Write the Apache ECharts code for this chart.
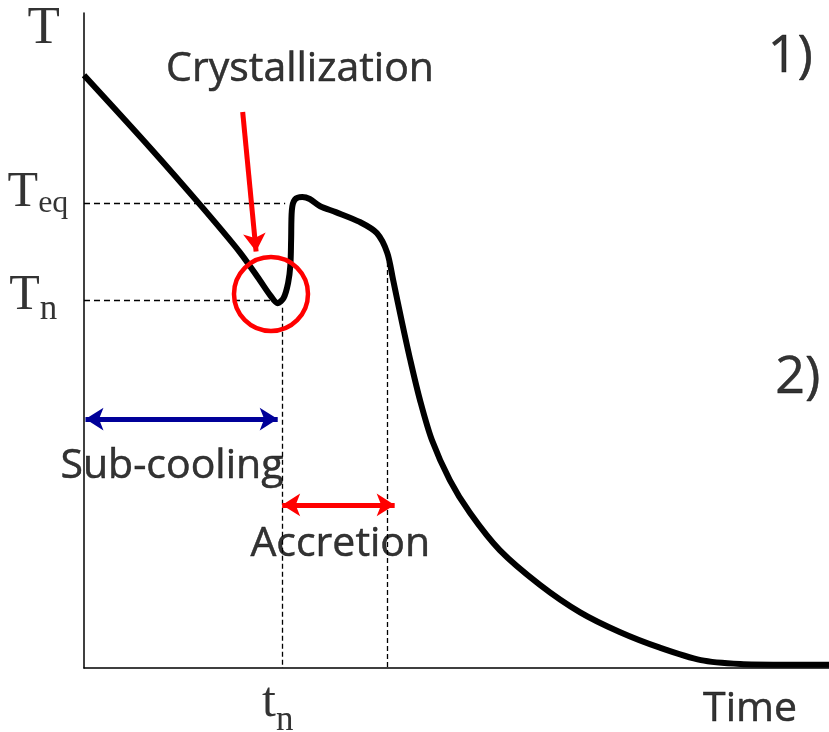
<!DOCTYPE html>
<html>
<head>
<meta charset="utf-8">
<script src="https://cdn.jsdelivr.net/npm/echarts@6/dist/echarts.min.js"></script>
<style>
  html, body { margin: 0; padding: 0; background: #fff; }
  #chart { width: 829px; height: 732px; }
</style>
</head>
<body>
<div id="chart"></div>
<script>
// cooling curve (time, temperature), arbitrary units 0..100
const timeVals = [0, 8.9, 15.6, 20.9, 23.6, 25.0, 26.0, 26.8, 27.4, 27.7, 27.8, 27.9, 28.3, 29.3, 30.3, 31.7,
  33.8, 37.0, 39.3, 40.7, 41.5, 42.7, 43.8, 45.1, 46.7, 49.1, 51.8, 55.8, 61.2, 66.6, 71.9, 77.3, 82.8, 88.1, 93.4, 100]
const tempVals = [90.5, 79.4, 70.7, 63.5, 59.2, 56.9, 55.7, 56.5, 58.8, 61.5, 65.3, 69.9, 71.5, 71.9, 71.6, 70.5,
  69.6, 68.1, 66.4, 63.4, 59.2, 52.7, 47.0, 40.9, 34.8, 28.7, 23.7, 18.0, 12.7, 8.5, 5.5, 3.1, 1.2, 0.6, 0.5, 0.5]

// reference levels
const tEq = 71.0
const tN = 56.2
const tNucl = 26.6
const tAccEnd = 40.7

// annotations (anchors in data units)
const subCool = { y: 38.0, x0: 0.2, x1: 26.0 }
const accretion = { y: 24.9, x0: 26.6, x1: 41.7 }
const crystArrow = [[21.3, 84.9], [23.1, 63.6]]
const crystCircle = [25.1, 57.1]

const noteText = ['Crystallization', 'Sub-cooling', 'Accretion', 'Time']
const noteX = [29.0, 11.8, 34.4, 89.4]
const noteY = [91.4, 30.8, 18.9, -6.3]

const stageText = ['1)', '2)']
const stageX = [94.8, 95.8]
const stageY = [93.2, 44.2]

const symText = ['{A|T}', '{a|T}{e|eq}', '{a|T}{n|n}', '{a|t}{m|n}']
const symX = [-5.4, -2.1, -3.6, 26.0]
const symY = [97.5, 72.4, 56.3, -6.1]
const symAlign = ['center', 'right', 'right', 'center']

let chart = echarts.init(document.getElementById('chart'))

let curve = timeVals.map((t, i) => [t, tempVals[i]])

let dash = { color: '#000', width: 1.3, type: [6, 4] }
let vdash = { color: '#000', width: 1.3, type: [5, 3] }

let textLayer = (names, xs, ys, fontSize) => ({
  type: 'scatter',
  silent: true,
  clip: false,
  symbolSize: 0,
  data: names.map((s, i) => ({ value: [xs[i], ys[i]], name: s })),
  label: {
    show: true,
    position: 'inside',
    formatter: p => p.name,
    fontFamily: 'Open Sans',
    fontSize: fontSize,
    color: '#000',
    textBorderColor: '#000',
    textBorderWidth: 0.5
  }
})

let serif = 'Liberation Serif'

let option = {
  animation: false,
  grid: { left: 84, right: 0, top: 13, bottom: 64 },
  xAxis: {
    type: 'value', min: 0, max: 100,
    axisLine: { show: true, lineStyle: { color: '#000', width: 1.5 } },
    axisTick: { show: false }, axisLabel: { show: false }, splitLine: { show: false }
  },
  yAxis: {
    type: 'value', min: 0, max: 100,
    axisLine: { show: true, lineStyle: { color: '#000', width: 1.5 } },
    axisTick: { show: false }, axisLabel: { show: false }, splitLine: { show: false }
  },
  series: [
    {
      type: 'line',
      data: curve,
      smooth: 0.3,
      symbol: 'none',
      lineStyle: { color: '#000', width: 6 },
      z: 5,
      markLine: {
        silent: true,
        symbol: ['none', 'none'],
        label: { show: false },
        emphasis: { disabled: true },
        data: [
          [{ coord: [0, tEq], lineStyle: dash }, { coord: [27.0, tEq] }],
          [{ coord: [0, tN], lineStyle: dash }, { coord: [25.6, tN] }],
          [{ coord: [tNucl, 55.0], lineStyle: vdash }, { coord: [tNucl, 0] }],
          [{ coord: [tAccEnd, 62.0], lineStyle: vdash }, { coord: [tAccEnd, 0] }],
          [
            { coord: [subCool.x0, subCool.y], symbol: 'arrow', symbolSize: [17, 18], lineStyle: { color: '#000099', width: 5, type: 'solid' } },
            { coord: [subCool.x1, subCool.y], symbol: 'arrow', symbolSize: [17, 18] }
          ],
          [
            { coord: [accretion.x0, accretion.y], symbol: 'arrow', symbolSize: [17, 18], lineStyle: { color: '#ff0000', width: 5, type: 'solid' } },
            { coord: [accretion.x1, accretion.y], symbol: 'arrow', symbolSize: [17, 18] }
          ],
          [
            { coord: crystArrow[0], symbol: 'none', lineStyle: { color: '#ff0000', width: 5, type: 'solid' } },
            { coord: crystArrow[1], symbol: 'arrow', symbolSize: [17, 18] }
          ]
        ]
      }
    },
    {
      type: 'scatter',
      silent: true,
      data: [crystCircle],
      symbol: 'circle',
      symbolSize: 74,
      itemStyle: { color: 'rgba(0,0,0,0)', borderColor: '#ff0000', borderWidth: 4.5, opacity: 1 },
      z: 6
    },
    textLayer(noteText, noteX, noteY, 41),
    textLayer(stageText, stageX, stageY, 52),
    {
      type: 'scatter',
      silent: true,
      clip: false,
      symbolSize: 0,
      data: symText.map((s, i) => ({
        value: [symX[i], symY[i]],
        name: s,
        label: { align: symAlign[i] }
      })),
      label: {
        show: true,
        position: 'inside',
        formatter: p => p.name,
        verticalAlign: 'middle',
        color: '#000',
        rich: {
          A: { fontFamily: serif, fontSize: 53, lineHeight: 53, color: '#000' },
          a: { fontFamily: serif, fontSize: 50, lineHeight: 50, verticalAlign: 'top', color: '#000' },
          e: { fontFamily: serif, fontSize: 32, lineHeight: 52, verticalAlign: 'bottom', color: '#000' },
          n: { fontFamily: serif, fontSize: 35, lineHeight: 57, verticalAlign: 'bottom', color: '#000' },
          m: { fontFamily: serif, fontSize: 35, lineHeight: 60, verticalAlign: 'bottom', color: '#000' }
        }
      }
    }
  ]
}

chart.setOption(option)
</script>
</body>
</html>
